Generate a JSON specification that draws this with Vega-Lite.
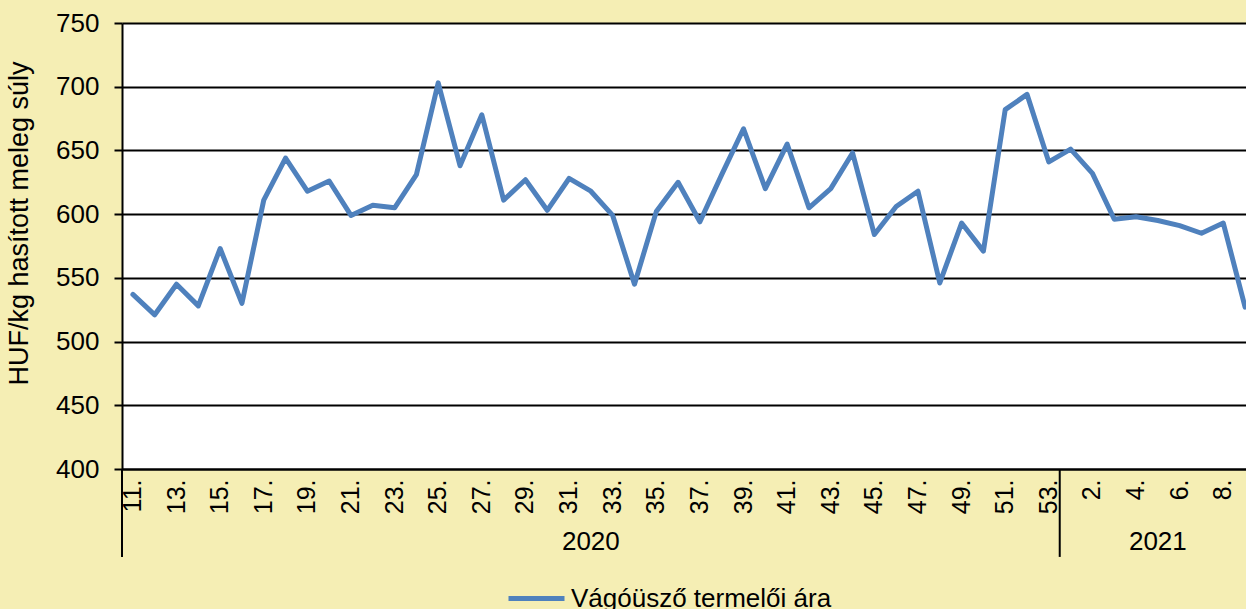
{
  "$schema": "https://vega.github.io/schema/vega-lite/v6.json",
  "autosize": {"type": "none"},
  "width": 1124,
  "height": 446,
  "padding": {"left": 122, "top": 23, "right": 0, "bottom": 140},
  "background": "#F5EEB4",
  "config": {
    "font": "Liberation Sans",
    "view": {"fill": "white", "stroke": null},
    "axis": {"labelColor": "black", "titleColor": "black", "labelFont": "Liberation Sans", "titleFont": "Liberation Sans"}
  },
  "datasets": {
    "prices": [
      {"wk": "11.", "price": 537}, {"wk": "12.", "price": 521}, {"wk": "13.", "price": 545},
      {"wk": "14.", "price": 528}, {"wk": "15.", "price": 573}, {"wk": "16.", "price": 530},
      {"wk": "17.", "price": 611}, {"wk": "18.", "price": 644}, {"wk": "19.", "price": 618},
      {"wk": "20.", "price": 626}, {"wk": "21.", "price": 599}, {"wk": "22.", "price": 607},
      {"wk": "23.", "price": 605}, {"wk": "24.", "price": 631}, {"wk": "25.", "price": 703},
      {"wk": "26.", "price": 638}, {"wk": "27.", "price": 678}, {"wk": "28.", "price": 611},
      {"wk": "29.", "price": 627}, {"wk": "30.", "price": 603}, {"wk": "31.", "price": 628},
      {"wk": "32.", "price": 618}, {"wk": "33.", "price": 599}, {"wk": "34.", "price": 545},
      {"wk": "35.", "price": 602}, {"wk": "36.", "price": 625}, {"wk": "37.", "price": 594},
      {"wk": "38.", "price": 631}, {"wk": "39.", "price": 667}, {"wk": "40.", "price": 620},
      {"wk": "41.", "price": 655}, {"wk": "42.", "price": 605}, {"wk": "43.", "price": 620},
      {"wk": "44.", "price": 648}, {"wk": "45.", "price": 584}, {"wk": "46.", "price": 606},
      {"wk": "47.", "price": 618}, {"wk": "48.", "price": 546}, {"wk": "49.", "price": 593},
      {"wk": "50.", "price": 571}, {"wk": "51.", "price": 682}, {"wk": "52.", "price": 694},
      {"wk": "53.", "price": 641}, {"wk": "1.", "price": 651}, {"wk": "2.", "price": 632},
      {"wk": "3.", "price": 596}, {"wk": "4.", "price": 598}, {"wk": "5.", "price": 595},
      {"wk": "6.", "price": 591}, {"wk": "7.", "price": 585}, {"wk": "8.", "price": 593},
      {"wk": "9.", "price": 527}
    ],
    "separators": [
      {"wk": "11.", "top": 400, "bottom": 331},
      {"wk": "1.", "top": 400, "bottom": 331}
    ],
    "years": [
      {"wk": "32.", "yl": 343, "year": "2020"},
      {"wk": "5.", "yl": 343, "year": "2021"}
    ]
  },
  "encoding": {
    "x": {
      "field": "wk",
      "type": "ordinal",
      "scale": {
        "type": "band",
        "paddingInner": 0,
        "paddingOuter": 0,
        "range": [0, 1134],
        "domain": ["11.","12.","13.","14.","15.","16.","17.","18.","19.","20.","21.","22.","23.","24.","25.","26.","27.","28.","29.","30.","31.","32.","33.","34.","35.","36.","37.","38.","39.","40.","41.","42.","43.","44.","45.","46.","47.","48.","49.","50.","51.","52.","53.","1.","2.","3.","4.","5.","6.","7.","8.","9."]
      },
      "axis": {
        "title": null,
        "values": ["11.","13.","15.","17.","19.","21.","23.","25.","27.","29.","31.","33.","35.","37.","39.","41.","43.","45.","47.","49.","51.","53.","2.","4.","6.","8."],
        "labelAngle": -90,
        "labelFontSize": 25,
        "labelPadding": 10,
        "ticks": false,
        "grid": false,
        "domainColor": "black",
        "domainWidth": 2
      }
    }
  },
  "layer": [
    {
      "data": {"name": "prices"},
      "mark": {"type": "line", "strokeWidth": 5, "strokeCap": "round", "strokeJoin": "round"},
      "encoding": {
        "y": {
          "field": "price",
          "type": "quantitative",
          "scale": {"domain": [400, 750], "nice": false, "zero": false},
          "axis": {
            "title": "HUF/kg hasított meleg súly",
            "titleFontSize": 27,
            "titleFontWeight": "normal",
            "titleAngle": -90,
            "titleAlign": "center",
            "titleBaseline": "bottom",
            "titleX": -89,
            "titleY": 200,
            "values": [400, 450, 500, 550, 600, 650, 700, 750],
            "labelFontSize": 26,
            "labelPadding": 15,
            "grid": true,
            "gridColor": "black",
            "gridWidth": 2,
            "gridOpacity": 1,
            "domainColor": "black",
            "domainWidth": 2,
            "tickColor": "black",
            "tickWidth": 2,
            "tickSize": 8
          }
        },
        "color": {
          "datum": "Vágóüsző termelői ára",
          "type": "nominal",
          "scale": {"range": ["#4F81BD"]},
          "legend": {
            "title": null,
            "orient": "none",
            "legendX": 384,
            "legendY": 545,
            "padding": 0,
            "symbolType": "stroke",
            "symbolSize": 3136,
            "symbolStrokeWidth": 5,
            "symbolStrokeColor": "#4F81BD",
            "labelFontSize": 26,
            "labelColor": "black",
            "labelFont": "Liberation Sans",
            "labelOffset": 4,
            "labelLimit": 500
          }
        }
      }
    },
    {
      "data": {"name": "separators"},
      "mark": {"type": "rule", "color": "black", "strokeWidth": 2},
      "encoding": {
        "x": {"field": "wk", "type": "ordinal", "bandPosition": 0},
        "y": {"field": "top", "type": "quantitative"},
        "y2": {"field": "bottom"}
      }
    },
    {
      "data": {"name": "years"},
      "mark": {"type": "text", "fontSize": 26, "color": "black", "baseline": "middle", "align": "center"},
      "encoding": {
        "x": {"field": "wk", "type": "ordinal"},
        "y": {"field": "yl", "type": "quantitative"},
        "text": {"field": "year"}
      }
    }
  ]
}
